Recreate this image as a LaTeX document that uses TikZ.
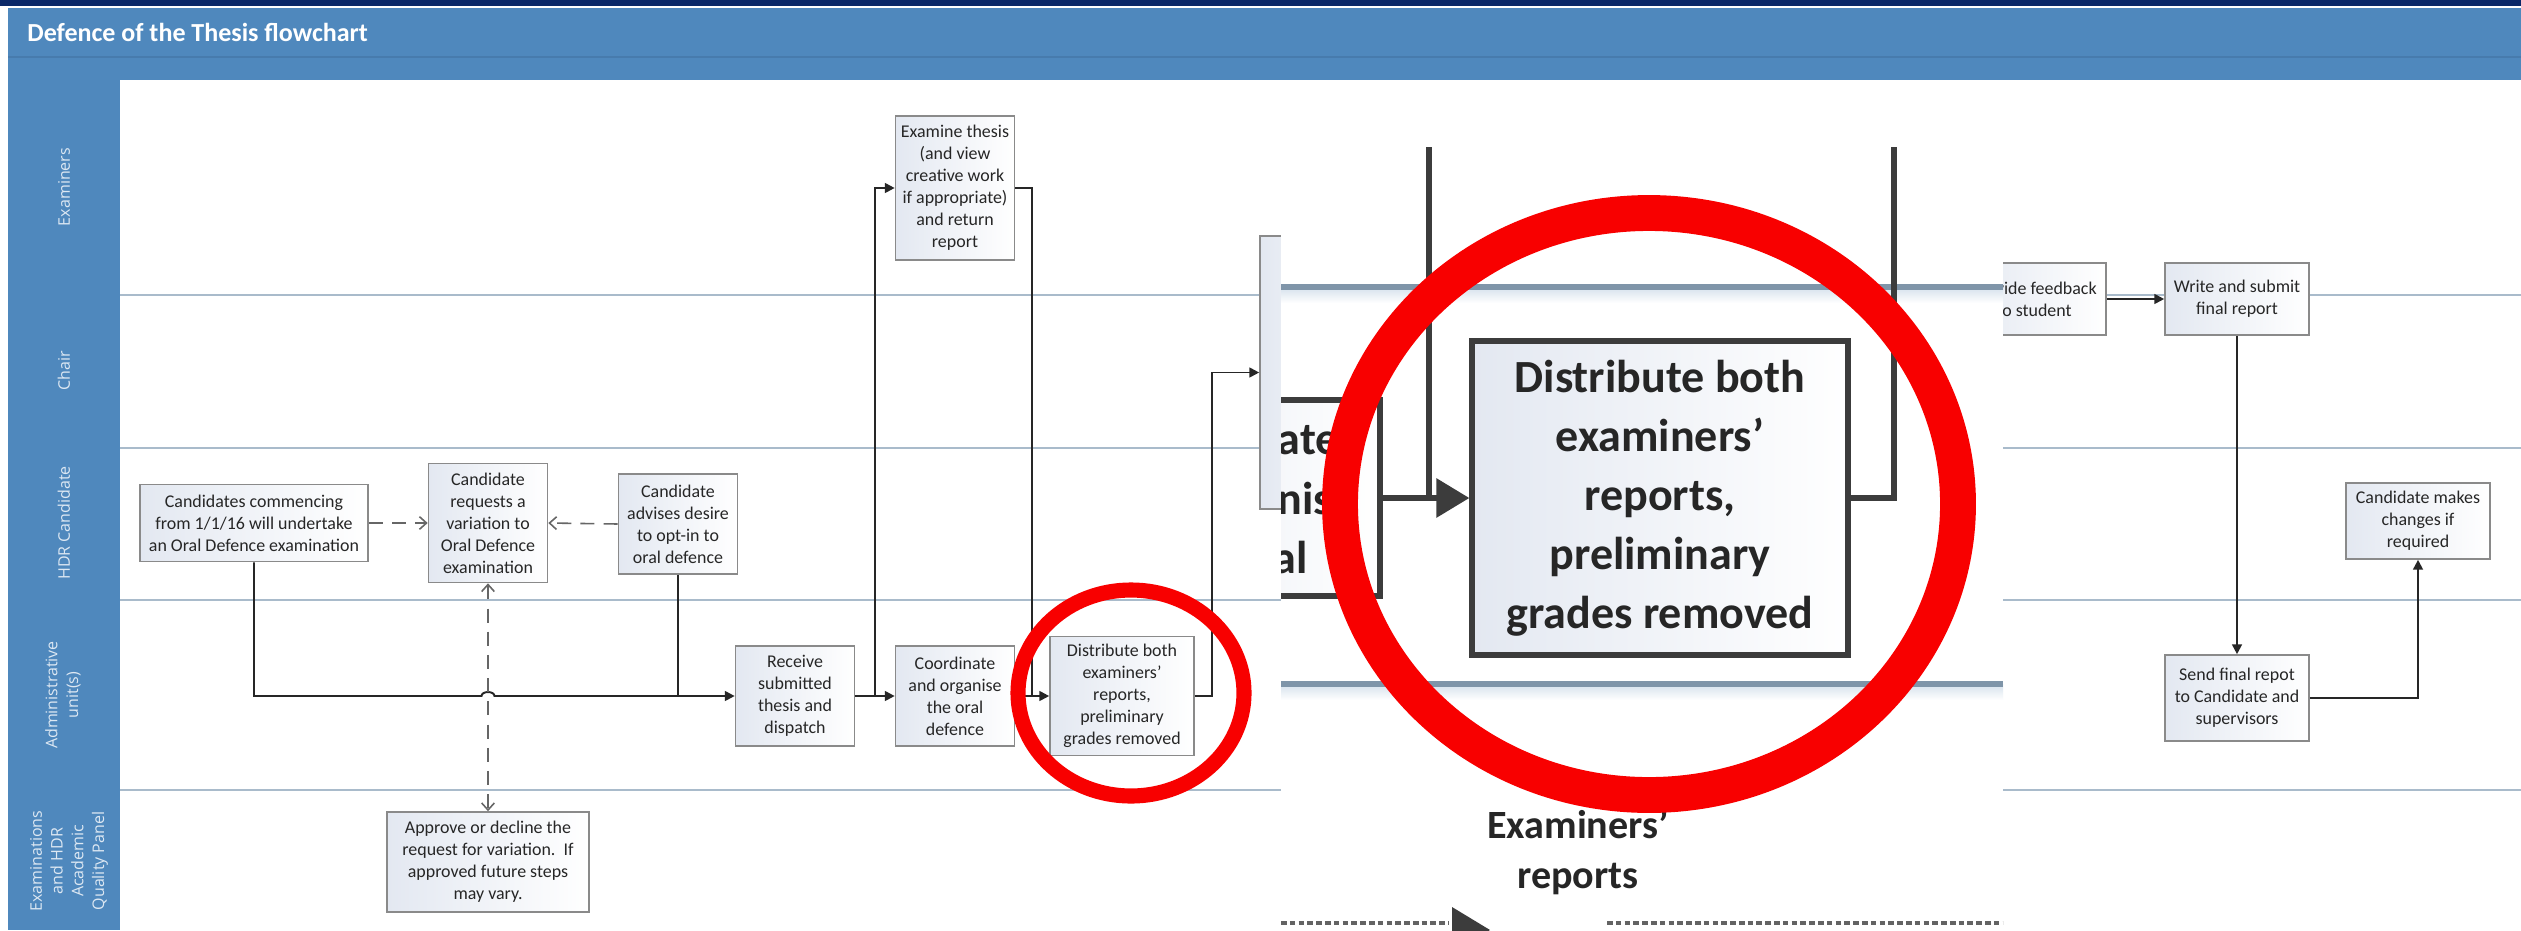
\documentclass[tikz,border=0pt]{standalone}
\usepackage{fontspec}
\setmainfont{Carlito}
\newfontfamily\lanefont{Open Sans}
\usetikzlibrary{arrows.meta,calc}

\definecolor{navy}{HTML}{0A2868}
\definecolor{hdrblue}{HTML}{4F88BD}
\definecolor{hdrline}{HTML}{477BAD}
\definecolor{laneline}{HTML}{A9BBCB}
\definecolor{lanetext}{HTML}{DDE8F3}
\definecolor{boxgray}{HTML}{8A8A8A}
\definecolor{boxtint}{HTML}{E3E8F1}
\definecolor{inkgray}{HTML}{262626}
\definecolor{ringred}{HTML}{F80000}
\definecolor{zoomline}{HTML}{3C3C3C}
\definecolor{zoomlane}{HTML}{7F95A9}
\definecolor{zoomshade}{HTML}{D5E1EC}

\tikzset{
	stepbox/.style={draw=boxgray, line width=0.45pt, left color=boxtint, right color=white,
		inner sep=0pt, align=center, text=inkgray, font=\fontsize{5.1pt}{6.26pt}\selectfont},
	bigbox/.style={draw=zoomline, line width=1.7pt, left color=boxtint, right color=white,
		inner sep=0pt, align=center, text=inkgray, font=\fontsize{13.1pt}{16.8pt}\selectfont\bfseries},
	lanename/.style={rotate=90, text=lanetext, align=center, font=\lanefont\fontsize{4.55pt}{5.9pt}\selectfont},
	lanesep/.style={draw=laneline, line width=0.6pt},
	link/.style={draw=inkgray, line width=0.55pt},
	flow/.style={link, -{Triangle[length=2.8pt,width=2.8pt]}},
	optflow/.style={draw=gray!80!black, line width=0.45pt, dash pattern=on 4pt off 2.6pt,
		>={Straight Barb[length=2pt,width=3.6pt]}},
	zlink/.style={draw=zoomline, line width=1.8pt},
	zflow/.style={zlink, -{Triangle[length=9.4pt,width=10.8pt]}},
	zlane/.style={draw=zoomlane, line width=1.5pt},
	zdash/.style={draw=zoomline!80, line width=0.9pt, dash pattern=on 1.6pt off 0.9pt},
	ring/.style={draw=ringred}
}

\begin{document}
\begin{tikzpicture}[x=0.01cm, y=-0.01cm]

	\useasboundingbox (0,0) rectangle (2521,930);
	\fill[white] (0,0) rectangle (2521,930);

	% header and lane column
	\fill[navy] (0,0) rectangle (2521,6);
	\fill[hdrblue] (8,8) rectangle (2521,80);
	\fill[hdrblue] (8,80) rectangle (120,930);
	\draw[hdrline, line width=0.4pt] (8,57) -- (2521,57);
	\node[anchor=base west, text=white, font=\fontsize{7.4pt}{9pt}\selectfont\bfseries] (title) at (15,41) {Defence of the Thesis flowchart};

	\foreach \y in {295,448,600,790} \draw[lanesep] (120,\y) -- (2521,\y);

	\node[lanename] (lexam) at (64,187) {Examiners};
	\node[lanename] (lchair) at (64,371) {Chair};
	\node[lanename] (lcand) at (64,523) {HDR Candidate};
	\node[lanename] (ladmin) at (63,695) {Administrative\\unit(s)};
	\node[lanename] (lpanel) at (69,861) {Examinations\\and HDR\\Academic\\Quality Panel};

	% steps
	\node[stepbox, minimum width=2.28cm, minimum height=0.77cm] (cand) at (254,523) {Candidates commencing\\from 1/1/16 will undertake\\an Oral Defence examination};
	\node[stepbox, minimum width=1.19cm, minimum height=1.19cm] (req) at (488,523) {Candidate\\requests a\\variation to\\Oral Defence\\examination};
	\node[stepbox, minimum width=1.19cm, minimum height=1.00cm] (optin) at (678,524) {Candidate\\advises desire\\to opt-in to\\oral defence};
	\node[stepbox, minimum width=2.02cm, minimum height=1.00cm] (approve) at (488,862) {Approve or decline the\\request for variation.\ \ If\\approved future steps\\may vary.};
	\node[stepbox, minimum width=1.19cm, minimum height=1.00cm] (recv) at (795,696) {Receive\\submitted\\thesis and\\dispatch};
	\node[stepbox, minimum width=1.19cm, minimum height=1.44cm] (exam) at (955,188) {Examine thesis\\(and view\\creative work\\if appropriate)\\and return\\report};
	\node[stepbox, minimum width=1.19cm, minimum height=1.00cm] (coord) at (955,696) {Coordinate\\and organise\\the oral\\defence};
	\node[stepbox, minimum width=1.44cm, minimum height=1.19cm] (dist) at (1122,696) {Distribute both\\examiners’\\reports,\\preliminary\\grades removed};
	\node[stepbox, minimum width=1.20cm, minimum height=2.73cm] (chairbox) at (1320,372.5) {};
	\node[stepbox, minimum width=1.44cm, minimum height=0.72cm] (feedback) at (2034,299) {Provide feedback\\to student};
	\node[stepbox, minimum width=1.44cm, minimum height=0.72cm] (write) at (2237,299) {Write and submit\\final report};
	\node[stepbox, minimum width=1.44cm, minimum height=0.86cm] (send) at (2237,698) {Send final repot\\to Candidate and\\supervisors};
	\node[stepbox, minimum width=1.44cm, minimum height=0.76cm] (changes) at (2418,521) {Candidate makes\\changes if\\required};

	% connectors
	\coordinate (jump) at (481.5,696);
	\draw[flow] (cand.south) |- (jump) arc[start angle=180, end angle=360, x radius=6.5, y radius=4] -- (recv.west);
	\draw[link] (optin.south) -- (optin.south |- recv.west);
	\draw[optflow, ->] (cand.east) -- (req.west);
	\draw[optflow, ->] (optin.west) -- (req.east);
	\draw[optflow, <->] (req.south) -- (approve.north);

	\coordinate (fork1) at ($(recv.east)!0.5!(coord.west)$);
	\coordinate (fork2) at ($(coord.east)!0.5!(dist.west)$);
	\coordinate (fork3) at ($(dist.east)+(17,0)$);
	\draw[flow] (recv.east) -- (coord.west);
	\draw[flow] (fork1) |- (exam.west);
	\draw[link] (exam.east) -| (fork2);
	\draw[flow] (coord.east) -- (dist.west);
	\draw[flow] (dist.east) -- (fork3) |- (chairbox.west);

	\draw[flow] (feedback.east) -- (write.west);
	\draw[flow] (write.south) -- (send.north);
	\draw[flow] (send.east) -| (changes.south);

	\draw[ring, line width=4.3pt] (1131,693) ellipse [x radius=113, y radius=103];

	% magnified view
	\fill[white] (1281,147) rectangle (2003,930);
	\begin{scope}
	\clip (1281,147) rectangle (2003,930);

	\foreach \y in {287,684} {
		\shade[top color=zoomshade, bottom color=white] (1281,\y) rectangle (2003,\y+16);
		\draw[zlane] (1281,\y) -- (2003,\y);
	}

	\node[bigbox, minimum width=2.94cm, minimum height=1.96cm] (zcoord) at (1233,498) {Coordinate\\and organise\\the oral};
	\node[bigbox, minimum width=3.75cm, minimum height=3.13cm] (zdist) at (1660,498) {Distribute both\\examiners’\\reports,\\preliminary\\grades removed};

	\coordinate (ztopL) at (1429,147);
	\coordinate (ztopR) at (1894,147);
	\draw[zlink] (ztopL) -- (ztopL |- zdist.west);
	\draw[zflow] (zcoord.east) -- (zdist.west);
	\draw[zlink] (zdist.east) -| (ztopR);

	\node[text=inkgray, align=center, font=\fontsize{11.4pt}{14.2pt}\selectfont\bfseries] (zrep) at (1578,852) {Examiners’\\reports};

	\coordinate (zdashA) at (1281,923);
	\coordinate (zdashB) at (1449,923);
	\coordinate (zdashC) at (1607,923);
	\coordinate (zdashD) at (2003,923);
	\draw[zdash] (zdashA) -- (zdashB);
	\draw[zdash] (zdashC) -- (zdashD);
	\fill[zoomline] (1452,907) -- (1490,930) -- (1452,953) -- cycle;

	\draw[ring, line width=10.2pt] (1649,504) ellipse [x radius=309, y radius=291];
	\end{scope}

\end{tikzpicture}
\end{document}
